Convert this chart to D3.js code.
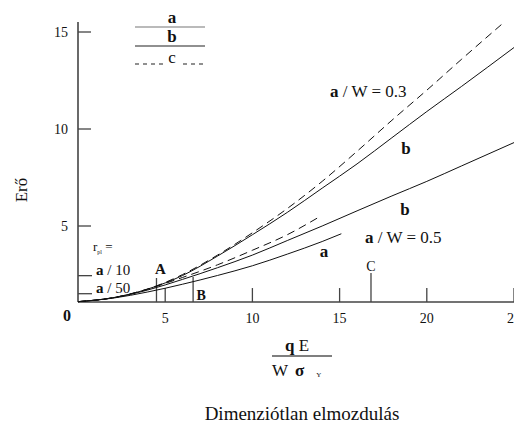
<!DOCTYPE html>
<html>
<head>
<meta charset="utf-8">
<title>Erő - dimenziótlan elmozdulás</title>
<script src="https://d3js.org/d3.v7.min.js"></script>
<style>
  body { margin: 0; background: #fff; }
  svg text { font-family: "Liberation Serif", "Times New Roman", Times, "DejaVu Serif", serif; fill: #111; }
</style>
</head>
<body>
<svg width="514" height="423"></svg>
<script>
// tengelyek
var xTicks = [5, 10, 15, 20, 25];
var yTicks = [5, 10, 15];
var yBase = 1.08;          // itt fut a vizszintes tengely

// a / W = 0.3 gorbek
var topC = [[0,1.1],[2,1.3],[4,1.75],[6,2.5],[8,3.5],[10,4.65],[12,5.9],[14,7.3],[16,8.85],[18,10.45],[20,12.0],[22,13.6],[24.3,15.4]];
var topB = [[0,1.1],[2,1.3],[4,1.75],[6,2.45],[8,3.45],[10,4.55],[12,5.7],[14,6.95],[16,8.2],[18,9.55],[20,10.9],[22,12.2],[25,14.2]];
// a / W = 0.5 gorbek
var lowB = [[0,1.1],[2,1.3],[4,1.7],[6,2.25],[8,2.85],[10,3.5],[12,4.25],[14,5.0],[16,5.78],[18,6.55],[20,7.3],[22,8.1],[25,9.3]];
var lowC = [[0,1.1],[2,1.3],[4,1.75],[6,2.35],[8,3.0],[10,3.75],[12,4.55],[13.8,5.45]];
var lowA = [[0,1.1],[2,1.28],[4,1.6],[6,2.0],[8,2.45],[10,2.95],[12,3.55],[14,4.2],[15.1,4.6]];

// jelolt pontok (A, B, C) es r_pl jelolesek
var marks = [{name:"A", x:4.5, top:2.32}, {name:"B", x:6.6, top:2.37}, {name:"C", x:16.8, top:2.58}];
var rpl = [{name:"a / 10", y:2.44}, {name:"a / 50", y:1.51}];

var svg = d3.select("svg");
var x = d3.scaleLinear().domain([0, 25]).range([78, 514]);
var y = d3.scaleLinear().domain([0, 15]).range([323, 32]);

var axisCol = "#444";

// x tengely
svg.append("line")
   .attr("x1", x(0)).attr("x2", x(25))
   .attr("y1", y(yBase)).attr("y2", y(yBase))
   .attr("stroke", axisCol).attr("stroke-width", 1.6);
svg.append("g").selectAll("line").data(xTicks).enter().append("line")
   .attr("x1", function(d){ return x(d); }).attr("x2", function(d){ return x(d); })
   .attr("y1", y(yBase)).attr("y2", y(yBase) - 14)
   .attr("stroke", axisCol).attr("stroke-width", 1.3);
svg.append("g").selectAll("text").data(xTicks).enter().append("text")
   .attr("x", function(d){ return x(d); }).attr("y", 323)
   .attr("text-anchor", "middle").attr("font-size", 14)
   .text(function(d){ return d; });
svg.append("text").attr("x", 67).attr("y", 321).attr("text-anchor", "middle")
   .attr("font-size", 16).attr("font-weight", "bold").text("0");

// y tengely
svg.append("line")
   .attr("x1", x(0)).attr("x2", x(0))
   .attr("y1", y(yBase)).attr("y2", 22)
   .attr("stroke", axisCol).attr("stroke-width", 1.6);
svg.append("g").selectAll("line").data(yTicks).enter().append("line")
   .attr("x1", x(0)).attr("x2", x(0) + 13)
   .attr("y1", function(d){ return y(d); }).attr("y2", function(d){ return y(d); })
   .attr("stroke", axisCol).attr("stroke-width", 1.3);
svg.append("g").selectAll("text").data(yTicks).enter().append("text")
   .attr("x", 68).attr("y", function(d){ return y(d) + 5; })
   .attr("text-anchor", "end").attr("font-size", 14)
   .text(function(d){ return d; });

svg.append("text").attr("transform", "translate(27,190) rotate(-90)")
   .attr("text-anchor", "middle").attr("font-size", 17).text("Erő");

// r_pl jelolesek
svg.append("g").selectAll("line").data(rpl).enter().append("line")
   .attr("x1", x(0)).attr("x2", x(0) + 14)
   .attr("y1", function(d){ return y(d.y); }).attr("y2", function(d){ return y(d.y); })
   .attr("stroke", axisCol).attr("stroke-width", 1.3);
var rt = svg.append("text").attr("x", 93).attr("y", 251).attr("font-size", 13);
rt.append("tspan").text("r");
rt.append("tspan").attr("font-size", 6).attr("dy", 3).text("pl");
rt.append("tspan").attr("dy", -3).text(" =");
svg.append("g").selectAll("text").data(rpl).enter().append("text")
   .attr("x", 96).attr("y", function(d){ return y(d.y) - 1; })
   .attr("font-size", 15)
   .html(function(d){ return "<tspan font-weight='bold'>a</tspan>" + d.name.slice(1); });

// A, B, C fuggoleges vonalak
svg.append("g").selectAll("line").data(marks).enter().append("line")
   .attr("x1", function(d){ return x(d.x); }).attr("x2", function(d){ return x(d.x); })
   .attr("y1", y(yBase)).attr("y2", function(d){ return y(d.top); })
   .attr("stroke", axisCol).attr("stroke-width", 1.3);
svg.append("text").attr("x", x(4.5) + 4).attr("y", 274).attr("text-anchor", "middle")
   .attr("font-size", 15).attr("font-weight", "bold").text("A");
svg.append("text").attr("x", x(6.6) + 8).attr("y", 300).attr("text-anchor", "middle")
   .attr("font-size", 14).attr("font-weight", "bold").text("B");
svg.append("text").attr("x", x(16.8)).attr("y", 271).attr("text-anchor", "middle")
   .attr("font-size", 14).text("C");

// gorbek
var line = d3.line().x(function(d){ return x(d[0]); }).y(function(d){ return y(d[1]); })
   .curve(d3.curveMonotoneX);
var series = [
  {d: topC, dash: "8,5"}, {d: topB, dash: null},
  {d: lowB, dash: null}, {d: lowC, dash: "8,5"}, {d: lowA, dash: null}
];
svg.append("g").selectAll("path").data(series).enter().append("path")
   .attr("d", function(s){ return line(s.d); })
   .attr("fill", "none").attr("stroke", "#111").attr("stroke-width", 1)
   .attr("stroke-dasharray", function(s){ return s.dash; });

// gorbe feliratok
function ratioLabel(px, py, val) {
  var t = svg.append("text").attr("x", px).attr("y", py).attr("font-size", 17);
  t.append("tspan").attr("font-weight", "bold").text("a");
  t.append("tspan").text(" / W = " + val);
}
ratioLabel(330, 97, "0.3");
ratioLabel(365, 243, "0.5");
svg.append("text").attr("x", 406).attr("y", 154).attr("text-anchor", "middle")
   .attr("font-size", 17).attr("font-weight", "bold").text("b");
svg.append("text").attr("x", 405).attr("y", 215).attr("text-anchor", "middle")
   .attr("font-size", 17).attr("font-weight", "bold").text("b");
svg.append("text").attr("x", 324).attr("y", 257).attr("text-anchor", "middle")
   .attr("font-size", 17).attr("font-weight", "bold").text("a");

// jelmagyarazat
var legend = [{k:"a", col:"#777", dash:null, y:27}, {k:"b", col:"#222", dash:null, y:46}, {k:"c", col:"#222", dash:"4,4", y:64}];
svg.append("g").selectAll("line").data(legend).enter().append("line")
   .attr("x1", 135).attr("x2", 205)
   .attr("y1", function(d){ return d.y; }).attr("y2", function(d){ return d.y; })
   .attr("stroke", function(d){ return d.col; }).attr("stroke-width", 1.2)
   .attr("stroke-dasharray", function(d){ return d.dash; });
svg.append("rect").attr("x", 163).attr("y", 56).attr("width", 18).attr("height", 10).attr("fill", "#fff");
svg.append("g").selectAll("text").data(legend).enter().append("text")
   .attr("x", 172).attr("y", function(d){ return d.k == "c" ? d.y - 1 : d.y - 4; })
   .attr("text-anchor", "middle").attr("font-size", 17)
   .attr("font-weight", function(d){ return d.k == "c" ? "normal" : "bold"; })
   .text(function(d){ return d.k; });

// x tengely cime (tort)
var num = svg.append("text").attr("x", 297).attr("y", 351).attr("text-anchor", "middle").attr("font-size", 17);
num.append("tspan").attr("font-weight", "bold").text("q");
num.append("tspan").text(" E");
svg.append("line").attr("x1", 272).attr("x2", 332).attr("y1", 356).attr("y2", 356)
   .attr("stroke", "#555").attr("stroke-width", 1.3);
var den = svg.append("text").attr("x", 272).attr("y", 376).attr("font-size", 17);
den.append("tspan").text("W");
den.append("tspan").attr("font-weight", "bold").attr("dx", 7).text("σ");
den.append("tspan").attr("font-size", 7).attr("dx", 12).attr("dy", 1).text("Y");

svg.append("text").attr("x", 302).attr("y", 420).attr("text-anchor", "middle")
   .attr("font-size", 19).text("Dimenziótlan elmozdulás");
</script>
</body>
</html>
